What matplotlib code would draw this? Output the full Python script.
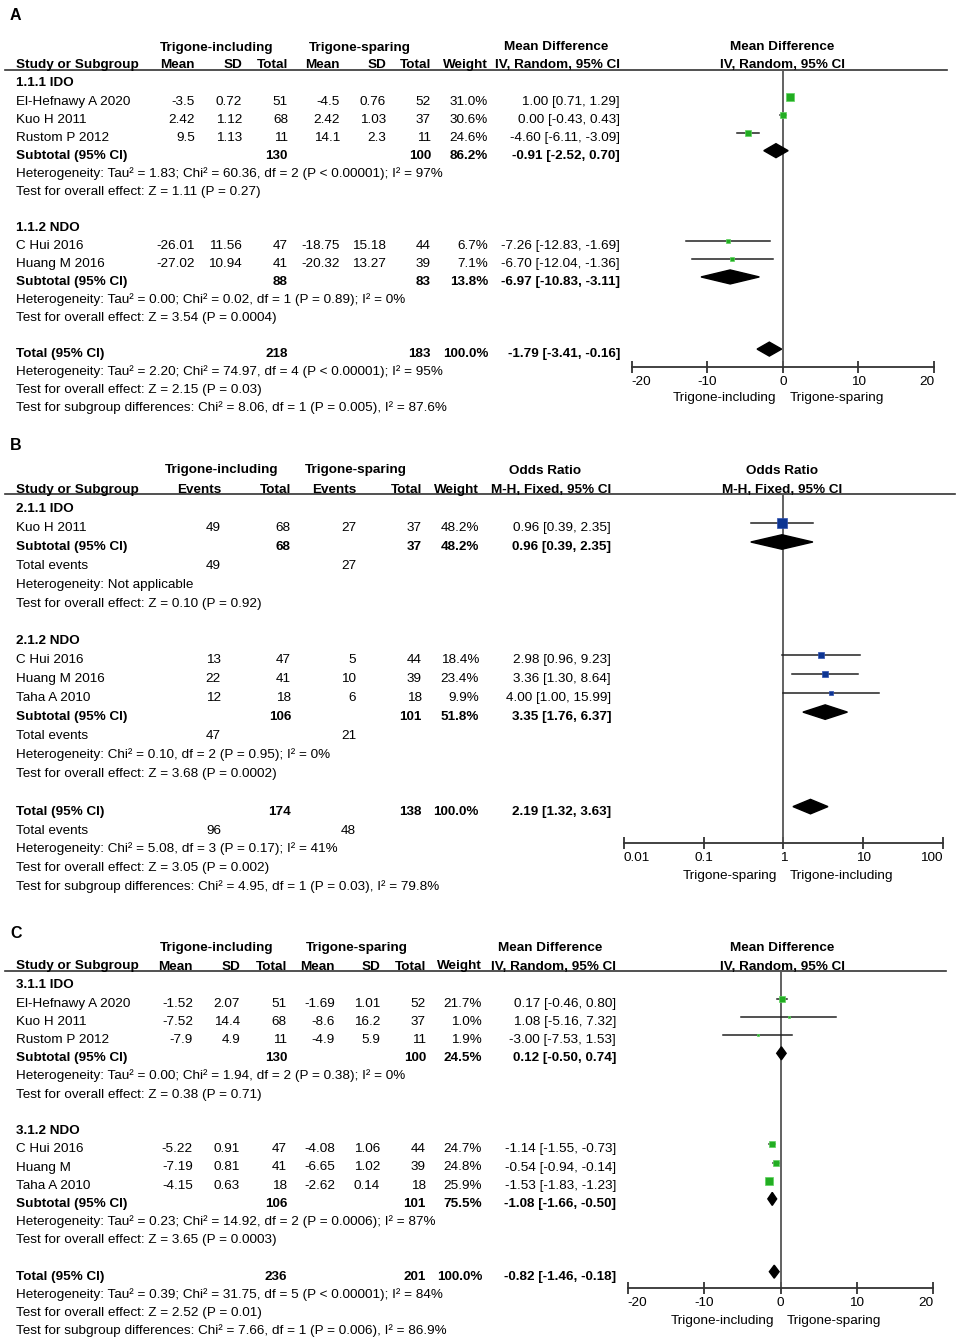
import numpy as np
import matplotlib
matplotlib.use("Agg")
import matplotlib.pyplot as plt
from matplotlib.patches import Polygon

plt.rcParams['font.family'] = ['Liberation Sans', 'DejaVu Sans']
plt.rcParams['axes.unicode_minus'] = False

# ---------------- panel A : mean difference, random effects
A_STUDY = ["El-Hefnawy A 2020", "Kuo H 2011", "Rustom P 2012", "C Hui 2016", "Huang M 2016"]
A_GROUP = [0, 0, 0, 1, 1]
A_MEAN_I = [-3.5, 2.42, 9.5, -26.01, -27.02]
A_SD_I = [0.72, 1.12, 1.13, 11.56, 10.94]
A_N_I = [51, 68, 11, 47, 41]
A_MEAN_S = [-4.5, 2.42, 14.1, -18.75, -20.32]
A_SD_S = [0.76, 1.03, 2.3, 15.18, 13.27]
A_N_S = [52, 37, 11, 44, 39]
A_WEIGHT = [31.0, 30.6, 24.6, 6.7, 7.1]
A_EST = [1.00, 0.00, -4.60, -7.26, -6.70]
A_LO = [0.71, -0.43, -6.11, -12.83, -12.04]
A_HI = [1.29, 0.43, -3.09, -1.69, -1.36]
A_SUBGROUP = ["1.1.1 IDO", "1.1.2 NDO"]
A_SUB_N_I = [130, 88]
A_SUB_N_S = [100, 83]
A_SUB_W = [86.2, 13.8]
A_SUB_EST = [-0.91, -6.97]
A_SUB_LO = [-2.52, -10.83]
A_SUB_HI = [0.70, -3.11]
A_SUB_NOTES = [["Heterogeneity: Tau² = 1.83; Chi² = 60.36, df = 2 (P < 0.00001); I² = 97%",
                "Test for overall effect: Z = 1.11 (P = 0.27)"],
               ["Heterogeneity: Tau² = 0.00; Chi² = 0.02, df = 1 (P = 0.89); I² = 0%",
                "Test for overall effect: Z = 3.54 (P = 0.0004)"]]
A_TOTAL = [218, 183, 100.0, -1.79, -3.41, -0.16]
A_TOTAL_NOTES = ["Heterogeneity: Tau² = 2.20; Chi² = 74.97, df = 4 (P < 0.00001); I² = 95%",
                 "Test for overall effect: Z = 2.15 (P = 0.03)",
                 "Test for subgroup differences: Chi² = 8.06, df = 1 (P = 0.005), I² = 87.6%"]

# ---------------- panel B : odds ratio, fixed effect
B_STUDY = ["Kuo H 2011", "C Hui 2016", "Huang M 2016", "Taha A 2010"]
B_GROUP = [0, 1, 1, 1]
B_EV_I = [49, 13, 22, 12]
B_N_I = [68, 47, 41, 18]
B_EV_S = [27, 5, 10, 6]
B_N_S = [37, 44, 39, 18]
B_WEIGHT = [48.2, 18.4, 23.4, 9.9]
B_EST = [0.96, 2.98, 3.36, 4.00]
B_LO = [0.39, 0.96, 1.30, 1.00]
B_HI = [2.35, 9.23, 8.64, 15.99]
B_SUBGROUP = ["2.1.1 IDO", "2.1.2 NDO"]
B_SUB_N_I = [68, 106]
B_SUB_N_S = [37, 101]
B_SUB_EV_I = [49, 47]
B_SUB_EV_S = [27, 21]
B_SUB_W = [48.2, 51.8]
B_SUB_EST = [0.96, 3.35]
B_SUB_LO = [0.39, 1.76]
B_SUB_HI = [2.35, 6.37]
B_SUB_NOTES = [["Heterogeneity: Not applicable",
                "Test for overall effect: Z = 0.10 (P = 0.92)"],
               ["Heterogeneity: Chi² = 0.10, df = 2 (P = 0.95); I² = 0%",
                "Test for overall effect: Z = 3.68 (P = 0.0002)"]]
B_TOTAL = [174, 138, 100.0, 2.19, 1.32, 3.63]
B_TOTAL_EV = [96, 48]
B_TOTAL_NOTES = ["Heterogeneity: Chi² = 5.08, df = 3 (P = 0.17); I² = 41%",
                 "Test for overall effect: Z = 3.05 (P = 0.002)",
                 "Test for subgroup differences: Chi² = 4.95, df = 1 (P = 0.03), I² = 79.8%"]

# ---------------- panel C : mean difference, random effects
C_STUDY = ["El-Hefnawy A 2020", "Kuo H 2011", "Rustom P 2012", "C Hui 2016", "Huang M", "Taha A 2010"]
C_GROUP = [0, 0, 0, 1, 1, 1]
C_MEAN_I = [-1.52, -7.52, -7.9, -5.22, -7.19, -4.15]
C_SD_I = [2.07, 14.4, 4.9, 0.91, 0.81, 0.63]
C_N_I = [51, 68, 11, 47, 41, 18]
C_MEAN_S = [-1.69, -8.6, -4.9, -4.08, -6.65, -2.62]
C_SD_S = [1.01, 16.2, 5.9, 1.06, 1.02, 0.14]
C_N_S = [52, 37, 11, 44, 39, 18]
C_WEIGHT = [21.7, 1.0, 1.9, 24.7, 24.8, 25.9]
C_EST = [0.17, 1.08, -3.00, -1.14, -0.54, -1.53]
C_LO = [-0.46, -5.16, -7.53, -1.55, -0.94, -1.83]
C_HI = [0.80, 7.32, 1.53, -0.73, -0.14, -1.23]
C_SUBGROUP = ["3.1.1 IDO", "3.1.2 NDO"]
C_SUB_N_I = [130, 106]
C_SUB_N_S = [100, 101]
C_SUB_W = [24.5, 75.5]
C_SUB_EST = [0.12, -1.08]
C_SUB_LO = [-0.50, -1.66]
C_SUB_HI = [0.74, -0.50]
C_SUB_NOTES = [["Heterogeneity: Tau² = 0.00; Chi² = 1.94, df = 2 (P = 0.38); I² = 0%",
                "Test for overall effect: Z = 0.38 (P = 0.71)"],
               ["Heterogeneity: Tau² = 0.23; Chi² = 14.92, df = 2 (P = 0.0006); I² = 87%",
                "Test for overall effect: Z = 3.65 (P = 0.0003)"]]
C_TOTAL = [236, 201, 100.0, -0.82, -1.46, -0.18]
C_TOTAL_NOTES = ["Heterogeneity: Tau² = 0.39; Chi² = 31.75, df = 5 (P < 0.00001); I² = 84%",
                 "Test for overall effect: Z = 2.52 (P = 0.01)",
                 "Test for subgroup differences: Chi² = 7.66, df = 1 (P = 0.006), I² = 86.9%"]

W, H = 960, 1339
FS = 9.7
GREEN = '#22ad22'
GREEN_EDGE = '#5fd35f'
BLUE = '#0d3592'

fig = plt.figure(figsize=(W / 100, H / 100), dpi=100)
base = fig.add_axes([0, 0, 1, 1])
base.set_xlim(0, W)
base.set_ylim(H, 0)
base.axis('off')


def txt(x, y, s, ha='left', bold=False, size=FS):
    base.text(x, y + 4.5, s, ha=ha, va='baseline', fontsize=size,
              fontweight='bold' if bold else 'normal')


def forest_axes(x0, x1, ytop, ybot, xlim, log=False):
    ax = fig.add_axes([x0 / W, 1 - ybot / H, (x1 - x0) / W, (ybot - ytop) / H])
    ax.patch.set_alpha(0)
    if log:
        ax.set_xscale('log')
    ax.set_xlim(*xlim)
    ax.set_ylim(ybot, ytop)
    for s in ['top', 'left', 'right']:
        ax.spines[s].set_visible(False)
    ax.spines['bottom'].set_color('#333333')
    ax.spines['bottom'].set_linewidth(1.3)
    ax.yaxis.set_visible(False)
    ax.axvline(1 if log else 0, color='#555555', lw=1.3)
    ax.minorticks_off()
    ax.tick_params(axis='x', direction='inout', length=9, width=1.3, color='#333333',
                   labelsize=FS, pad=2)
    return ax


def square(ax, x, y, w, k, color, edge):
    side = k * np.sqrt(w)
    ax.scatter([x], [y], marker='s', s=(side * 0.72) ** 2, facecolor=color,
               edgecolor=edge, linewidths=0.5, zorder=3)


def diamond(ax, est, lo, hi, y, h):
    ax.add_patch(Polygon([(lo, y), (est, y - h / 2), (hi, y), (est, y + h / 2)],
                         closed=True, color='black', zorder=3))


def ci(ax, lo, hi, y):
    ax.plot([lo, hi], [y, y], color='#222222', lw=1.1, zorder=2)


def draw_md_panel(letter, L, study, group, mi, si, ni, ms, ss, ns, wt, est, lo, hi,
                  subgroup, sn_i, sn_s, sw, sest, slo, shi, snotes, total, tnotes, k, dh):
    c = L['cols']
    txt(10, L['label'], letter, bold=True, size=11.5)
    txt(L['g1'], L['h1'], "Trigone-including", ha='center', bold=True)
    txt(L['g2'], L['h1'], "Trigone-sparing", ha='center', bold=True)
    txt(L['s1'], L['h1'], "Mean Difference", ha='center', bold=True)
    txt(782, L['h1'], "Mean Difference", ha='center', bold=True)
    txt(16, L['h2'], "Study or Subgroup", bold=True)
    for x, s in zip(c, ["Mean", "SD", "Total", "Mean", "SD", "Total", "Weight",
                        "IV, Random, 95% CI"]):
        txt(x, L['h2'], s, ha='right', bold=True)
    txt(782, L['h2'], "IV, Random, 95% CI", ha='center', bold=True)
    base.plot([5, L['xend']], [L['line'], L['line']], color='#333333', lw=1.2)

    ax = forest_axes(L['fx0'], L['fx1'], L['line'], L['axis'], (-20, 20))
    ax.set_xticks([-20, -10, 0, 10, 20])
    ax.set_xticklabels(["-20", "-10", "0", "10", "20"])
    tl = ax.get_xticklabels()
    tl[0].set_ha('left')
    tl[-1].set_ha('right')

    y0, st = L['row0'], L['step']
    r = 0
    for g in range(len(subgroup)):
        txt(16, y0 + r * st, subgroup[g], bold=True)
        r += 1
        for i in range(len(study)):
            if group[i] != g:
                continue
            y = y0 + r * st
            txt(16, y, study[i])
            vals = [str(mi[i]), str(si[i]), str(ni[i]), str(ms[i]), str(ss[i]), str(ns[i]),
                    "%.1f%%" % wt[i], "%.2f [%.2f, %.2f]" % (est[i], lo[i], hi[i])]
            for x, s in zip(c, vals):
                txt(x, y, s, ha='right')
            ci(ax, lo[i], hi[i], y - 3.5)
            square(ax, est[i], y - 3.5, wt[i], k, GREEN, GREEN_EDGE)
            r += 1
        y = y0 + r * st
        txt(16, y, "Subtotal (95% CI)", bold=True)
        txt(c[2], y, str(sn_i[g]), ha='right', bold=True)
        txt(c[5], y, str(sn_s[g]), ha='right', bold=True)
        txt(c[6], y, "%.1f%%" % sw[g], ha='right', bold=True)
        txt(c[7], y, "%.2f [%.2f, %.2f]" % (sest[g], slo[g], shi[g]), ha='right', bold=True)
        diamond(ax, sest[g], slo[g], shi[g], y - 3.5, dh)
        r += 1
        for note in snotes[g]:
            txt(16, y0 + r * st, note)
            r += 1
        r += 1
    y = y0 + r * st
    txt(16, y, "Total (95% CI)", bold=True)
    txt(c[2], y, str(total[0]), ha='right', bold=True)
    txt(c[5], y, str(total[1]), ha='right', bold=True)
    txt(c[6], y, "%.1f%%" % total[2], ha='right', bold=True)
    txt(c[7], y, "%.2f [%.2f, %.2f]" % (total[3], total[4], total[5]), ha='right', bold=True)
    diamond(ax, total[3], total[4], total[5], y - 3.5, dh)
    r += 1
    for note in tnotes:
        txt(16, y0 + r * st, note)
        r += 1
    zx = (L['fx0'] + L['fx1']) / 2
    txt(zx - 6.5, L['foot'], "Trigone-including", ha='right')
    txt(zx + 6.5, L['foot'], "Trigone-sparing", ha='left')


LA = dict(label=15, h1=46, h2=63.5, line=70, xend=947, row0=82, step=18.04,
          cols=[195, 242, 288, 340, 386, 431, 488, 620], g1=217, g2=360, s1=556,
          fx0=631.7, fx1=934, axis=367, foot=396)
LC = dict(label=934, h1=946.7, h2=965, line=971, xend=946, row0=984, step=18.2,
          cols=[193, 240, 287, 335, 380, 426, 482, 616], g1=217, g2=357, s1=550,
          fx0=627.7, fx1=933.3, axis=1288, foot=1319.3)

draw_md_panel("A", LA, A_STUDY, A_GROUP, A_MEAN_I, A_SD_I, A_N_I, A_MEAN_S, A_SD_S, A_N_S,
              A_WEIGHT, A_EST, A_LO, A_HI, A_SUBGROUP, A_SUB_N_I, A_SUB_N_S, A_SUB_W,
              A_SUB_EST, A_SUB_LO, A_SUB_HI, A_SUB_NOTES, A_TOTAL, A_TOTAL_NOTES, 1.26, 14)
draw_md_panel("C", LC, C_STUDY, C_GROUP, C_MEAN_I, C_SD_I, C_N_I, C_MEAN_S, C_SD_S, C_N_S,
              C_WEIGHT, C_EST, C_LO, C_HI, C_SUBGROUP, C_SUB_N_I, C_SUB_N_S, C_SUB_W,
              C_SUB_EST, C_SUB_LO, C_SUB_HI, C_SUB_NOTES, C_TOTAL, C_TOTAL_NOTES, 1.38, 13)

# ---------------- panel B
LB = dict(label=445, h1=469, h2=488.3, line=493.5, xend=955, row0=507.7, step=18.9,
          cols=[221, 291, 356, 422, 479, 611], fx0=624, fx1=942.7, axis=843.3, foot=875)
c = LB['cols']
txt(10, LB['label'], "B", bold=True, size=11.5)
txt(222, LB['h1'], "Trigone-including", ha='center', bold=True)
txt(356, LB['h1'], "Trigone-sparing", ha='center', bold=True)
txt(545, LB['h1'], "Odds Ratio", ha='center', bold=True)
txt(782, LB['h1'], "Odds Ratio", ha='center', bold=True)
txt(16, LB['h2'], "Study or Subgroup", bold=True)
for x, s in zip(c, ["Events", "Total", "Events", "Total", "Weight", "M-H, Fixed, 95% CI"]):
    txt(x, LB['h2'], s, ha='right', bold=True)
txt(782, LB['h2'], "M-H, Fixed, 95% CI", ha='center', bold=True)
base.plot([5, LB['xend']], [LB['line'], LB['line']], color='#333333', lw=1.2)

axb = forest_axes(LB['fx0'], LB['fx1'], LB['line'], LB['axis'], (0.01, 100), log=True)
axb.set_xticks([0.01, 0.1, 1, 10, 100])
axb.set_xticklabels(["0.01", "0.1", "1", "10", "100"])
tl = axb.get_xticklabels()
tl[0].set_ha('left')
tl[-1].set_ha('right')

y0, st = LB['row0'], LB['step']
r = 0
for g in range(len(B_SUBGROUP)):
    txt(16, y0 + r * st, B_SUBGROUP[g], bold=True)
    r += 1
    for i in range(len(B_STUDY)):
        if B_GROUP[i] != g:
            continue
        y = y0 + r * st
        txt(16, y, B_STUDY[i])
        vals = [str(B_EV_I[i]), str(B_N_I[i]), str(B_EV_S[i]), str(B_N_S[i]),
                "%.1f%%" % B_WEIGHT[i], "%.2f [%.2f, %.2f]" % (B_EST[i], B_LO[i], B_HI[i])]
        for x, s in zip(c, vals):
            txt(x, y, s, ha='right')
        ci(axb, B_LO[i], B_HI[i], y - 3.5)
        square(axb, B_EST[i], y - 3.5, B_WEIGHT[i], 1.44, BLUE, '#3050b0')
        r += 1
    y = y0 + r * st
    txt(16, y, "Subtotal (95% CI)", bold=True)
    txt(c[1], y, str(B_SUB_N_I[g]), ha='right', bold=True)
    txt(c[3], y, str(B_SUB_N_S[g]), ha='right', bold=True)
    txt(c[4], y, "%.1f%%" % B_SUB_W[g], ha='right', bold=True)
    txt(c[5], y, "%.2f [%.2f, %.2f]" % (B_SUB_EST[g], B_SUB_LO[g], B_SUB_HI[g]), ha='right', bold=True)
    diamond(axb, B_SUB_EST[g], B_SUB_LO[g], B_SUB_HI[g], y - 3.5, 14.5)
    r += 1
    y = y0 + r * st
    txt(16, y, "Total events")
    txt(c[0], y, str(B_SUB_EV_I[g]), ha='right')
    txt(c[2], y, str(B_SUB_EV_S[g]), ha='right')
    r += 1
    for note in B_SUB_NOTES[g]:
        txt(16, y0 + r * st, note)
        r += 1
    r += 1
y = y0 + r * st
txt(16, y, "Total (95% CI)", bold=True)
txt(c[1], y, str(B_TOTAL[0]), ha='right', bold=True)
txt(c[3], y, str(B_TOTAL[1]), ha='right', bold=True)
txt(c[4], y, "%.1f%%" % B_TOTAL[2], ha='right', bold=True)
txt(c[5], y, "%.2f [%.2f, %.2f]" % (B_TOTAL[3], B_TOTAL[4], B_TOTAL[5]), ha='right', bold=True)
diamond(axb, B_TOTAL[3], B_TOTAL[4], B_TOTAL[5], y - 3.5, 14.5)
r += 1
y = y0 + r * st
txt(16, y, "Total events")
txt(c[0], y, str(B_TOTAL_EV[0]), ha='right')
txt(c[2], y, str(B_TOTAL_EV[1]), ha='right')
r += 1
for note in B_TOTAL_NOTES:
    txt(16, y0 + r * st, note)
    r += 1
zx = (LB['fx0'] + LB['fx1']) / 2
txt(zx - 6.5, LB['foot'], "Trigone-sparing", ha='right')
txt(zx + 6.5, LB['foot'], "Trigone-including", ha='left')

fig.savefig("out.png", dpi=100)
